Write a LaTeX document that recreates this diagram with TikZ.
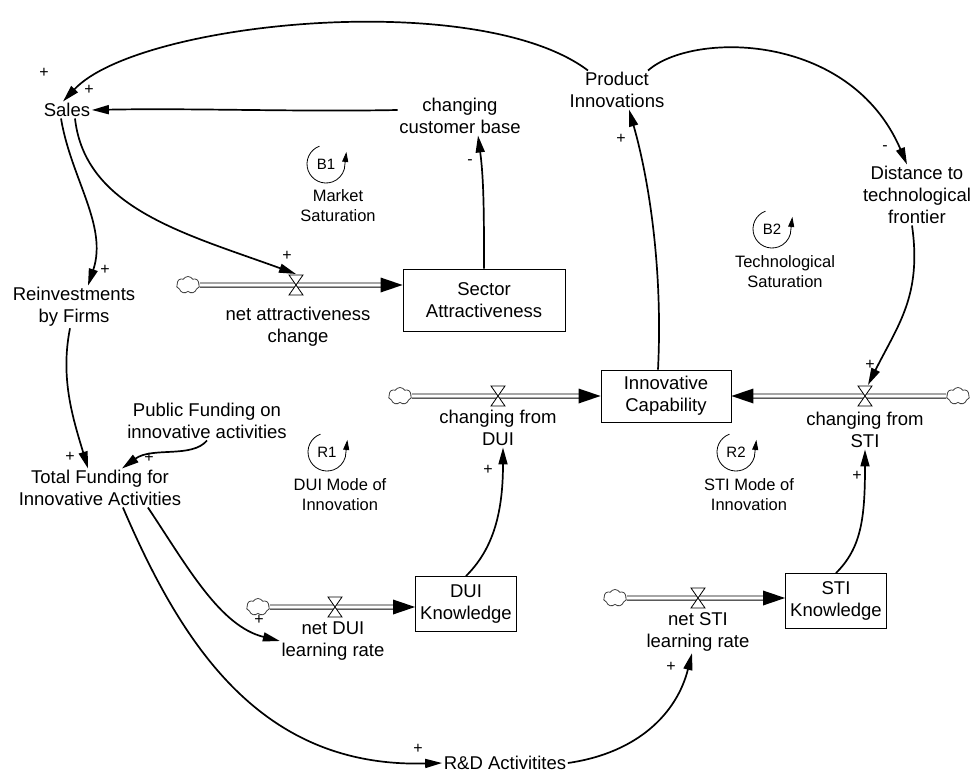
\documentclass[tikz,border=0pt]{standalone}
\usepackage{fontspec}
\setmainfont{Liberation Sans}
\usetikzlibrary{arrows.meta,shapes.symbols,calc}
\begin{document}
\begin{tikzpicture}[x=1pt,y=-1pt,
  txt/.style={font=\fontsize{18.5}{22}\selectfont, align=center, inner sep=1.5pt},
  stock/.style={txt, draw, line width=0.9pt, inner sep=0pt},
  looplabel/.style={font=\fontsize{16.5}{20}\selectfont, align=center, inner sep=0pt},
  sign/.style={font=\fontsize{16}{16}\selectfont, inner sep=0pt},
  link/.style={line width=1.7pt, -{Triangle[length=17pt,width=9pt]}},
  pipe/.style={draw=black, double=white, double distance=3.2pt, line width=0.9pt},
  source/.style={cloud, cloud puffs=7, cloud puff arc=120, aspect=1.35,
    draw=black!75, line width=0.8pt, minimum width=23pt, minimum height=17pt, inner sep=0pt},
  valve/.pic={\draw[line width=0.8pt, fill=white] (-7,-10) -- (7,-10) -- (-7,10) -- (7,10) -- cycle;},
  loopsym/.pic={
    \begin{scope}[yscale=-1]
      \draw[line width=0.8pt, -{Triangle[length=10pt,width=6pt]}]
        (110:19) arc[start angle=110, end angle=345, radius=19] -- ++(2,17);
    \end{scope}
    \node[font=\fontsize{15}{15}\selectfont, inner sep=0pt] (-t) at (0,0) {#1};
  },
]
\useasboundingbox (0,0) rectangle (972,773);

% auxiliary variables
\node[txt] (sales) at (67,110) {Sales};
\node[txt] (ccb) at (460,116) {changing\\customer base};
\node[txt] (pi) at (617,90) {Product\\Innovations};
\node[txt] (dist) at (917,195) {Distance to\\technological\\frontier};
\node[txt] (reinv) at (74,307) {Reinvestments\\by Firms};
\node[txt] (pub) at (207,421) {Public Funding on\\innovative activities};
\node[txt] (tot) at (100,488) {Total Funding for\\Innovative Activities};
\node[txt] (rd) at (505,763) {R\&D Activitites};

% stocks
\node[stock, minimum width=162pt, minimum height=62pt] (sa) at (484,300) {Sector\\Attractiveness};
\node[stock, minimum width=130pt, minimum height=52pt] (ic) at (666,396) {Innovative\\Capability};
\node[stock, minimum width=101pt, minimum height=55pt] (dk) at (466,604) {DUI\\Knowledge};
\node[stock, minimum width=101pt, minimum height=55pt] (sk) at (836,601) {STI\\Knowledge};

% flow: net attractiveness change
\node[source] (cA) at (188,285) {};
\coordinate (vA) at (296,285);
\draw[pipe, shorten >=18pt] (cA) -- (sa.west |- cA);
\fill (sa.west |- cA) -- ++(-22,-7.5) -- ++(0,15) -- cycle;
\pic at (vA) {valve};
\node[txt] (lA) at (298,327) {net attractiveness\\change};

% flow: changing from DUI
\node[source] (cB) at (400,396) {};
\coordinate (vB) at (498,396);
\draw[pipe, shorten >=18pt] (cB) -- (ic.west |- cB);
\fill (ic.west |- cB) -- ++(-22,-7.5) -- ++(0,15) -- cycle;
\pic at (vB) {valve};
\node[txt] (lB) at (498,428) {changing from\\DUI};

% flow: changing from STI
\node[source] (cC) at (958,396) {};
\coordinate (vC) at (865,396);
\draw[pipe, shorten >=18pt] (cC) -- (ic.east |- cC);
\fill (ic.east |- cC) -- ++(22,-7.5) -- ++(0,15) -- cycle;
\pic at (vC) {valve};
\node[txt] (lC) at (865,430) {changing from\\STI};

% flow: net DUI learning rate
\node[source] (cD) at (258,607) {};
\coordinate (vD) at (335,607);
\draw[pipe, shorten >=18pt] (cD) -- (dk.west |- cD);
\fill (dk.west |- cD) -- ++(-22,-7.5) -- ++(0,15) -- cycle;
\pic at (vD) {valve};
\node[txt] (lD) at (333,641) {net DUI\\learning rate};

% flow: net STI learning rate
\node[source] (cE) at (615,598) {};
\coordinate (vE) at (698,598);
\draw[pipe, shorten >=18pt] (cE) -- (sk.west |- cE);
\fill (sk.west |- cE) -- ++(-22,-7.5) -- ++(0,15) -- cycle;
\pic at (vE) {valve};
\node[txt] (lE) at (698,632) {net STI\\learning rate};

% causal links
\draw[link] ([xshift=20pt]pi.north west) .. controls +(-110,-83) and +(75,-80) .. ([xshift=-4pt]sales.north);
\draw[link] ([xshift=-18pt]pi.north east) .. controls +(44,-39) and +(-57,-133) .. ([xshift=-10pt]dist.north);
\draw[link] ($(ccb.west)+(0,-6)$) .. controls +(-100,2) and +(100,-2) .. (sales.east);
\draw[link] (sa.north) .. controls +(0,-50) and +(6,45) .. ([xshift=18pt]ccb.south);
\draw[link] ([xshift=-6pt]sales.south) .. controls +(10,60) and +(20,-60) .. ([xshift=14pt]reinv.north);
\draw[link] ([xshift=8pt]sales.south) .. controls +(10,90) and +(-110,-40) .. ($(vA)+(0,-11)$);
\draw[link] ([xshift=-4pt]reinv.south) .. controls +(-10,50) and +(-15,-50) .. ([xshift=-12pt]tot.north);
\draw[link] (pub.south) .. controls +(-15,18) and +(30,-22) .. ([xshift=22pt]tot.north);
\draw[link] ([xshift=-35pt]tot.south east) .. controls +(40,60) and +(-60,-15) .. (lD.west);
\draw[link] ([xshift=-60pt]tot.south east) .. controls +(60,140) and +(-180,5) .. (rd.west);
\draw[link] (rd.east) .. controls +(70,-10) and +(-15,60) .. ([xshift=-6pt]lE.south);
\draw[link] (dk.north) .. controls +(25,-25) and +(0,70) .. ([xshift=5pt]lB.south);
\draw[link] (sk.north) .. controls +(25,-25) and +(0,70) .. (lC.south);
\draw[link] ([xshift=-8pt]ic.north) .. controls +(5,-100) and +(20,70) .. ([xshift=12pt]pi.south);
\draw[link] ([xshift=-5pt]dist.south) .. controls +(10,70) and +(30,-60) .. ($(vC)+(3,-11)$);

% polarities
\node[sign] (s1) at (44,73) {+};
\node[sign] (s2) at (89,90) {+};
\node[sign] (s3) at (105,270) {+};
\node[sign] (s4) at (287,256) {+};
\node[sign] (s5) at (470,162) {-};
\node[sign] (s6) at (621,139) {+};
\node[sign] (s7) at (885,148) {-};
\node[sign] (s8) at (870,365) {+};
\node[sign] (s9) at (70,457) {+};
\node[sign] (s10) at (149,458) {+};
\node[sign] (s11) at (259,620) {+};
\node[sign] (s12) at (418,749) {+};
\node[sign] (s13) at (671,667) {+};
\node[sign] (s14) at (488,470) {+};
\node[sign] (s15) at (857,476) {+};

% feedback loops
\pic (b1) at (326,164) {loopsym=B1};
\node[looplabel] (b1l) at (338,206) {Market\\Saturation};
\pic (b2) at (772,229) {loopsym=B2};
\node[looplabel] (b2l) at (785,272) {Technological\\Saturation};
\pic (r1) at (327,452) {loopsym=R1};
\node[looplabel] (r1l) at (340,495) {DUI Mode of\\Innovation};
\pic (r2) at (736,452) {loopsym=R2};
\node[looplabel] (r2l) at (749,495) {STI Mode of\\Innovation};
\end{tikzpicture}
\end{document}
